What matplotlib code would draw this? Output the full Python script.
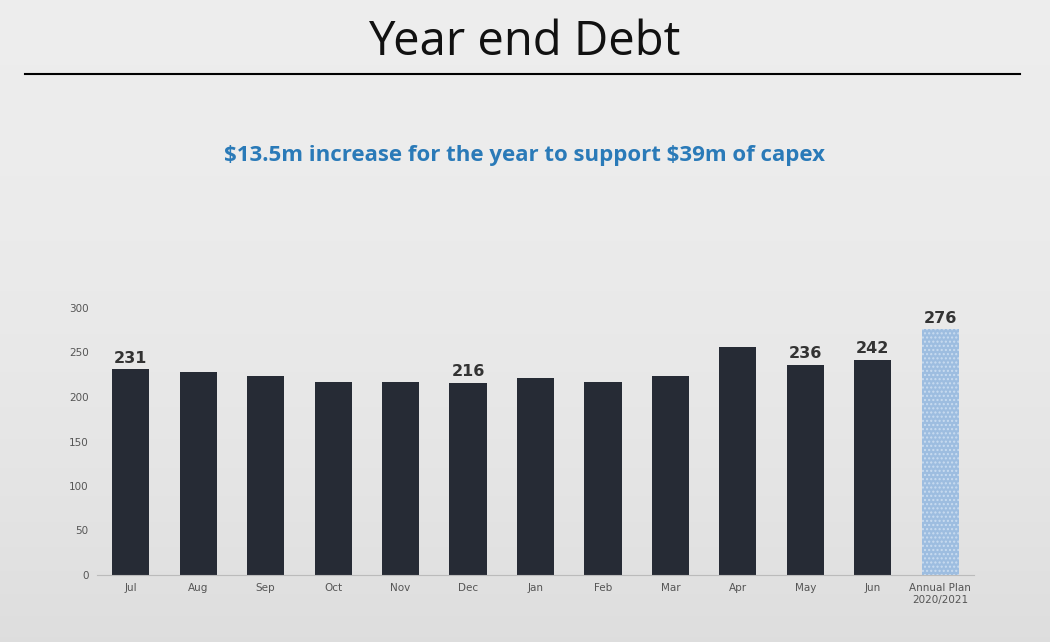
import matplotlib
matplotlib.use("Agg")
import matplotlib.pyplot as plt
import numpy as np

categories = ["Jul","Aug","Sep","Oct","Nov","Dec","Jan","Feb","Mar","Apr","May","Jun","Annual Plan\n2020/2021"]
values = [231,228,224,217,217,216,221,217,224,256,236,242,276]
labels = {0:"231",5:"216",10:"236",11:"242",12:"276"}
yticks = [0,50,100,150,200,250,300]

fig = plt.figure(figsize=(10.5,6.42), dpi=100)
bg = fig.add_axes([0,0,1,1]); bg.set_axis_off()
grad = np.linspace(0,1,256)[:,None]
bg.imshow(np.dstack([0.93-0.06*grad**2]*3), extent=[0,1,0,1], aspect='auto', origin='upper')
bg.set_xlim(0,1); bg.set_ylim(0,1)
bg.plot([25/1050,1020/1050],[1-74/642]*2, color='black', lw=1.5)
fig.text(0.5,1-42/642,"Year end Debt",ha='center',va='center',fontsize=34,family='Open Sans',color='#111111')
fig.text(0.5,1-156/642,r"\$13.5m increase for the year to support \$39m of capex",ha='center',va='center',
         fontsize=16,fontweight='bold',color='#2a7ab8',family='Open Sans')

ax = fig.add_axes([97/1050,1-575/642,877/1050,267/642])
ax.patch.set_alpha(0)
x = np.arange(len(categories))
cols = ['#262b35']*12 + ['#9dbde0']
bars = ax.bar(x, values, width=0.55, color=cols)
bars[-1].set_hatch('....'); bars[-1].set_edgecolor('#c9dcf0'); bars[-1].set_linewidth(0)
for i,t in labels.items():
    ax.text(x[i], values[i]+4, t, ha='center', va='bottom', fontsize=11.5, fontweight='bold', color='#333333')
ax.set_xlim(-0.5,12.5); ax.set_ylim(0,300)
ax.set_xticks(x); ax.set_xticklabels(categories, fontsize=7.5, color='#555555')
ax.set_yticks(yticks); ax.set_yticklabels([str(v) for v in yticks], fontsize=7.5, color='#555555')
for s in ['top','right','left']: ax.spines[s].set_visible(False)
ax.spines['bottom'].set_color('#bbbbbb')
ax.tick_params(length=0, pad=6)
fig.savefig("out.png", dpi=100)
